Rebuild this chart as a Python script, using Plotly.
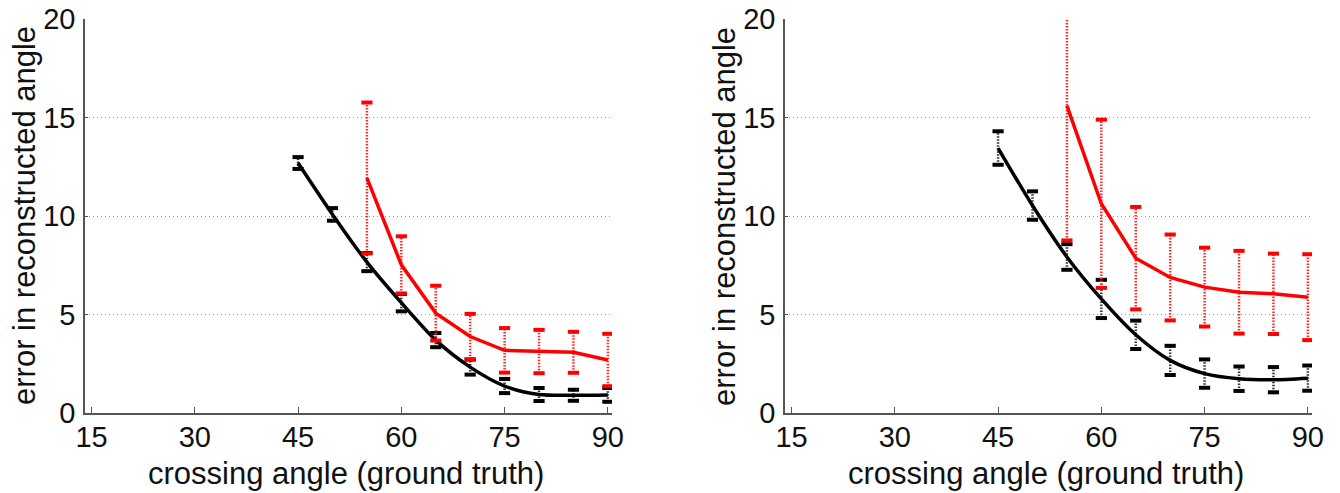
import plotly.graph_objects as go

# ---- data ----
angles = [45, 50, 55, 60, 65, 70, 75, 80, 85, 90]
red_angles = [55, 60, 65, 70, 75, 80, 85, 90]

# left panel
left_black_mean = [12.69, 10.08, 7.66, 5.6, 3.7, 2.33, 1.37, 0.94, 0.9, 0.92]
left_black_err = [0.3, 0.32, 0.46, 0.44, 0.36, 0.38, 0.36, 0.33, 0.28, 0.35]
left_red_mean = [11.93, 7.52, 5.07, 3.88, 3.18, 3.12, 3.08, 2.69]
left_red_err = [3.83, 1.45, 1.39, 1.15, 1.13, 1.1, 1.04, 1.33]

# right panel
right_black_mean = [13.45, 10.53, 7.92, 5.79, 3.97, 2.67, 2.0, 1.74, 1.69, 1.77]
right_black_err = [0.85, 0.72, 0.65, 0.97, 0.72, 0.74, 0.72, 0.62, 0.64, 0.64]
right_red_mean = [15.6, 10.62, 7.86, 6.88, 6.39, 6.13, 6.05, 5.88]
right_red_err = [6.84, 4.27, 2.6, 2.18, 2.0, 2.1, 2.04, 2.18]

x_ticks = [15, 30, 45, 60, 75, 90]
y_ticks = [0, 5, 10, 15, 20]
x_title = "crossing angle (ground truth)"
y_title = "error in reconstructed angle"

FONT = "Liberation Sans, Arial, Helvetica, sans-serif"
W, H = 1340, 493
AX_COL = "#555555"
TXT = "#111111"

fig = go.Figure()


def add_series(xs, mean, err, color, bar_color, axis_suffix, spline):
    xa = "x" + axis_suffix
    ya = "y" + axis_suffix
    bx, by = [], []
    for x, m, e in zip(xs, mean, err):
        bx += [x, x, None]
        by += [m - e, m + e, None]
    fig.add_trace(go.Scatter(
        x=bx, y=by, mode="lines", xaxis=xa, yaxis=ya,
        line=dict(color=bar_color, width=2.5, dash="1.5px,1.5px"),
        hoverinfo="skip", showlegend=False))
    cx, cy = [], []
    for x, m, e in zip(xs, mean, err):
        cx += [x, x]
        cy += [m - e, m + e]
    fig.add_trace(go.Scatter(
        x=cx, y=cy, mode="markers", xaxis=xa, yaxis=ya,
        marker=dict(symbol="line-ew", size=8,
                    line=dict(color=color, width=4)),
        hoverinfo="skip", showlegend=False))
    fig.add_trace(go.Scatter(
        x=xs, y=mean, mode="lines", xaxis=xa, yaxis=ya,
        line=dict(color=color, width=3.5,
                  shape="spline" if spline else "linear", smoothing=0.8),
        showlegend=False))


add_series(angles, left_black_mean, left_black_err, "black", "#333333", "", True)
add_series(red_angles, left_red_mean, left_red_err, "#ff0000", "#ff2a2a", "", False)
add_series(angles, right_black_mean, right_black_err, "black", "#333333", "2", True)
add_series(red_angles, right_red_mean, right_red_err, "#ff0000", "#ff2a2a", "2", False)

axis_common_x = dict(
    range=[14.05, 90.6], tickvals=x_ticks, ticktext=[str(v) for v in x_ticks],
    showline=True, linecolor=AX_COL, linewidth=1.5, ticks="inside",
    ticklen=6, tickcolor=AX_COL, tickwidth=1.2, showgrid=False, zeroline=False,
    tickfont=dict(family=FONT, size=29, color=TXT), fixedrange=True,
    automargin=False, ticklabelstandoff=-3,
)
axis_common_y = dict(
    range=[0, 20], tickvals=y_ticks, ticktext=[str(v) for v in y_ticks],
    showline=True, linecolor=AX_COL, linewidth=1.5, ticks="inside",
    ticklen=3, tickcolor=AX_COL, showgrid=True, gridcolor="#9a9a9a",
    gridwidth=1, griddash="1px,3px", zeroline=False,
    tickfont=dict(family=FONT, size=29, color=TXT), fixedrange=True,
    ticklabelstandoff=2, automargin=False,
)

L1, R1 = 85 / W, 612 / W
L2, R2 = 785 / W, 1312 / W

fig.update_layout(
    width=W, height=H,
    margin=dict(l=0, r=0, t=19, b=80),
    paper_bgcolor="white", plot_bgcolor="white",
    font=dict(family=FONT, color=TXT),
    xaxis=dict(domain=[L1, R1], anchor="y", **axis_common_x),
    yaxis=dict(domain=[0, 1], anchor="x", **axis_common_y),
    xaxis2=dict(domain=[L2, R2], anchor="y2", **axis_common_x),
    yaxis2=dict(domain=[0, 1], anchor="x2", **axis_common_y),
)

annos = []
for lo, hi in [(L1, R1), (L2, R2)]:
    annos.append(dict(text=x_title, xref="paper", yref="paper",
                      x=(lo + hi) / 2 - 3 / W, y=-0.104, xanchor="center", yanchor="top",
                      showarrow=False, font=dict(family=FONT, size=31, color=TXT)))
    annos.append(dict(text=y_title, xref="paper", yref="paper",
                      x=lo - 61 / W, y=0.5, xanchor="center", yanchor="middle",
                      textangle=-90, showarrow=False,
                      font=dict(family=FONT, size=31, color=TXT)))
fig.update_layout(annotations=annos)

fig.write_html("out.html",
               config={"displayModeBar": False},
               post_script="document.body.style.margin='0';document.body.style.overflow='hidden';")
